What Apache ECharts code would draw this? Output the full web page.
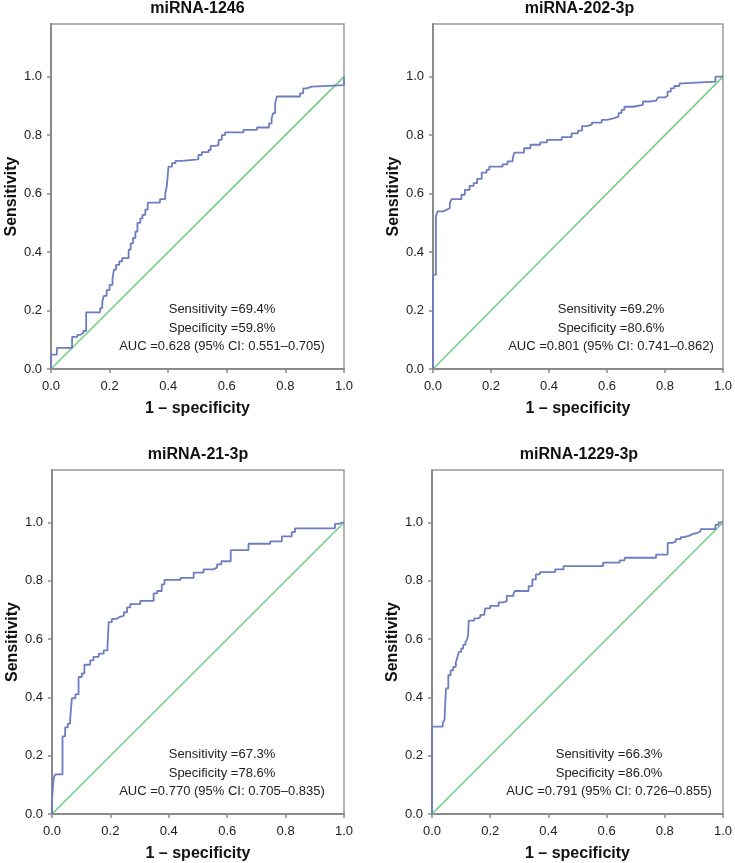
<!DOCTYPE html>
<html>
<head>
<meta charset="utf-8">
<script src="https://cdn.jsdelivr.net/npm/echarts@6/dist/echarts.min.js"></script>
<style>html,body{margin:0;padding:0;background:#fff}#c{width:735px;height:863px}</style>
</head>
<body>
<div id="c"></div>
<script>
// ---- data ----
const panelTitles = ['miRNA-1246', 'miRNA-202-3p', 'miRNA-21-3p', 'miRNA-1229-3p'];
const xTickValues = [0, 0.2, 0.4, 0.6, 0.8, 1.0];
const yTickValues = [0, 0.2, 0.4, 0.6, 0.8, 1.0];
const xAxisName = '1 \u2013 specificity';
const yAxisName = 'Sensitivity';

// ROC step points: at each fpr value, sensitivity jumps to tpr
const fpr1246 = [0, 0, 0.02, 0.072, 0.09, 0.10, 0.11, 0.12, 0.168, 0.175, 0.18, 0.19, 0.20, 0.21, 0.215, 0.222, 0.233, 0.243, 0.265, 0.272, 0.28, 0.288, 0.295, 0.305, 0.312, 0.322, 0.33, 0.372, 0.39, 0.395, 0.401, 0.413, 0.425, 0.447, 0.503, 0.515, 0.538, 0.545, 0.562, 0.572, 0.583, 0.594, 0.657, 0.703, 0.744, 0.753, 0.758, 0.765, 0.771, 0.85, 0.861, 0.872, 0.89, 1.0, 1.0];
const tpr1246 = [0, 0.049, 0.072, 0.11, 0.117, 0.123, 0.13, 0.194, 0.208, 0.23, 0.25, 0.27, 0.288, 0.31, 0.34, 0.356, 0.368, 0.379, 0.408, 0.43, 0.448, 0.47, 0.5, 0.515, 0.527, 0.545, 0.569, 0.581, 0.601, 0.624, 0.692, 0.704, 0.712, 0.717, 0.732, 0.742, 0.749, 0.763, 0.766, 0.784, 0.80, 0.809, 0.818, 0.826, 0.84, 0.858, 0.875, 0.909, 0.932, 0.943, 0.96, 0.966, 0.971, 0.971, 1.0];

const fpr202 = [0, 0, 0.01, 0.016, 0.035, 0.047, 0.058, 0.064, 0.098, 0.11, 0.126, 0.14, 0.152, 0.168, 0.185, 0.194, 0.24, 0.257, 0.275, 0.28, 0.314, 0.336, 0.37, 0.393, 0.444, 0.478, 0.50, 0.514, 0.53, 0.548, 0.582, 0.60, 0.622, 0.64, 0.65, 0.66, 0.69, 0.724, 0.75, 0.77, 0.776, 0.80, 0.809, 0.82, 0.832, 0.85, 0.86, 0.974, 1.0];
const tpr202 = [0, 0.322, 0.522, 0.539, 0.545, 0.55, 0.567, 0.581, 0.596, 0.613, 0.626, 0.636, 0.65, 0.672, 0.681, 0.692, 0.70, 0.71, 0.72, 0.74, 0.755, 0.767, 0.775, 0.784, 0.793, 0.806, 0.815, 0.831, 0.836, 0.843, 0.852, 0.857, 0.863, 0.875, 0.886, 0.897, 0.903, 0.915, 0.918, 0.922, 0.929, 0.935, 0.949, 0.96, 0.968, 0.977, 0.983, 1.0, 1.0];

const fpr21 = [0, 0, 0.006, 0.011, 0.036, 0.045, 0.054, 0.062, 0.068, 0.08, 0.091, 0.102, 0.111, 0.131, 0.142, 0.16, 0.177, 0.19, 0.194, 0.205, 0.22, 0.23, 0.246, 0.257, 0.268, 0.302, 0.348, 0.36, 0.376, 0.385, 0.44, 0.485, 0.519, 0.553, 0.565, 0.58, 0.612, 0.673, 0.747, 0.787, 0.821, 0.832, 0.969, 0.98, 1.0];
const tpr21 = [0, 0.051, 0.125, 0.136, 0.266, 0.297, 0.31, 0.323, 0.397, 0.41, 0.47, 0.482, 0.512, 0.527, 0.539, 0.55, 0.561, 0.573, 0.658, 0.669, 0.675, 0.68, 0.692, 0.709, 0.72, 0.731, 0.757, 0.765, 0.788, 0.803, 0.81, 0.828, 0.839, 0.845, 0.856, 0.867, 0.905, 0.927, 0.935, 0.952, 0.967, 0.98, 0.995, 1.0, 1.0];

const fpr1229 = [0, 0, 0.037, 0.043, 0.048, 0.056, 0.064, 0.073, 0.082, 0.086, 0.092, 0.10, 0.107, 0.115, 0.121, 0.124, 0.126, 0.145, 0.158, 0.166, 0.18, 0.183, 0.20, 0.229, 0.245, 0.257, 0.28, 0.285, 0.332, 0.345, 0.357, 0.371, 0.423, 0.452, 0.588, 0.645, 0.662, 0.77, 0.81, 0.827, 0.838, 0.855, 0.866, 0.885, 0.895, 0.912, 0.923, 0.974, 0.985, 1.0];
const tpr1229 = [0, 0.30, 0.312, 0.323, 0.431, 0.476, 0.493, 0.505, 0.52, 0.533, 0.556, 0.567, 0.58, 0.59, 0.599, 0.612, 0.663, 0.671, 0.675, 0.683, 0.69, 0.705, 0.714, 0.726, 0.73, 0.748, 0.755, 0.765, 0.782, 0.805, 0.822, 0.83, 0.839, 0.85, 0.862, 0.87, 0.879, 0.89, 0.93, 0.935, 0.943, 0.95, 0.955, 0.96, 0.964, 0.97, 0.977, 0.992, 1.0, 1.0];

const refX = [0, 1];
const refY = [0, 1];

const annotations = [
  ['Sensitivity =69.4%', 'Specificity =59.8%', 'AUC =0.628 (95% CI: 0.551\u20130.705)'],
  ['Sensitivity =69.2%', 'Specificity =80.6%', 'AUC =0.801 (95% CI: 0.741\u20130.862)'],
  ['Sensitivity =67.3%', 'Specificity =78.6%', 'AUC =0.770 (95% CI: 0.705\u20130.835)'],
  ['Sensitivity =66.3%', 'Specificity =86.0%', 'AUC =0.791 (95% CI: 0.726\u20130.855)']
];

const rocX = [fpr1246, fpr202, fpr21, fpr1229];
const rocY = [tpr1246, tpr202, tpr21, tpr1229];

// ---- layout ----
const FONT = '"Liberation Sans", Arial, Helvetica, sans-serif';
const grids = [
  {left: 51, top: 24, width: 293, height: 345},
  {left: 433, top: 24, width: 293, height: 345},
  {left: 52, top: 470, width: 292, height: 347},
  {left: 432, top: 470, width: 294, height: 347}
];
const annPos = [[222, 328], [611, 328], [222, 773], [609, 773]];

const zip = (a, b) => a.map((v, i) => [v, b[i]]);

const option = {
  animation: false,
  backgroundColor: '#fff',
  grid: grids.map(g => Object.assign({show: true, borderColor: '#9a9a9a', borderWidth: 1.5, backgroundColor: '#fff'}, g)),
  xAxis: grids.map((g, i) => ({
    type: 'value', gridIndex: i, min: 0, max: 1,
    name: xAxisName, nameLocation: 'middle', nameGap: 32,
    nameTextStyle: {fontFamily: FONT, fontSize: 16, fontWeight: 'bold', color: '#111'},
    axisLine: {show: true, onZero: false, lineStyle: {color: '#8a8a8a', width: 2}},
    axisTick: {show: true, inside: false, length: 4, customValues: xTickValues, lineStyle: {color: '#8a8a8a', width: 1.5}},
    axisLabel: {customValues: xTickValues, margin: 11, fontFamily: FONT, fontSize: 13, color: '#222',
      formatter: v => v.toFixed(1)},
    splitLine: {show: false}
  })),
  yAxis: grids.map((g, i) => ({
    type: 'value', gridIndex: i, min: 0, max: 1.18,
    name: yAxisName, nameLocation: 'middle', nameGap: 31, nameRotate: 90,
    nameTextStyle: {fontFamily: FONT, fontSize: 16, fontWeight: 'bold', color: '#111'},
    axisLine: {show: true, onZero: false, lineStyle: {color: '#8a8a8a', width: 2}},
    axisTick: {show: true, inside: false, length: 4, customValues: yTickValues, lineStyle: {color: '#8a8a8a', width: 1.5}},
    axisLabel: {customValues: yTickValues, margin: 9, fontFamily: FONT, fontSize: 13, color: '#222',
      formatter: v => v.toFixed(1)},
    splitLine: {show: false}
  })),
  series: [].concat(
    grids.map((g, i) => ({
      type: 'line', xAxisIndex: i, yAxisIndex: i, data: zip(refX, refY),
      symbol: 'none', silent: true, z: 2,
      lineStyle: {color: '#74cf88', width: 1.6}
    })),
    grids.map((g, i) => ({
      type: 'line', xAxisIndex: i, yAxisIndex: i, data: zip(rocX[i], rocY[i]),
      step: 'end', symbol: 'none', silent: true, z: 3,
      lineStyle: {color: '#6e7cc0', width: 1.8}
    }))
  ),
  graphic: [].concat(
    grids.map((g, i) => ({
      type: 'text', x: g.left + g.width / 2, y: (i < 2 ? 9 : 455),
      style: {text: panelTitles[i], textAlign: 'center', textVerticalAlign: 'middle',
        fontFamily: FONT, fontSize: 16, fontWeight: 'bold', fill: '#111'}
    })),
    annotations.map((lines, i) => ({
      type: 'text', x: annPos[i][0], y: annPos[i][1], z: 10,
      style: {text: lines.join('\n'), textAlign: 'center', textVerticalAlign: 'middle',
        lineHeight: 18.5, fontFamily: FONT, fontSize: 13, fill: '#222'}
    }))
  )
};

const chart = echarts.init(document.getElementById('c'), null, {renderer: 'canvas'});
chart.setOption(option);
</script>
</body>
</html>
